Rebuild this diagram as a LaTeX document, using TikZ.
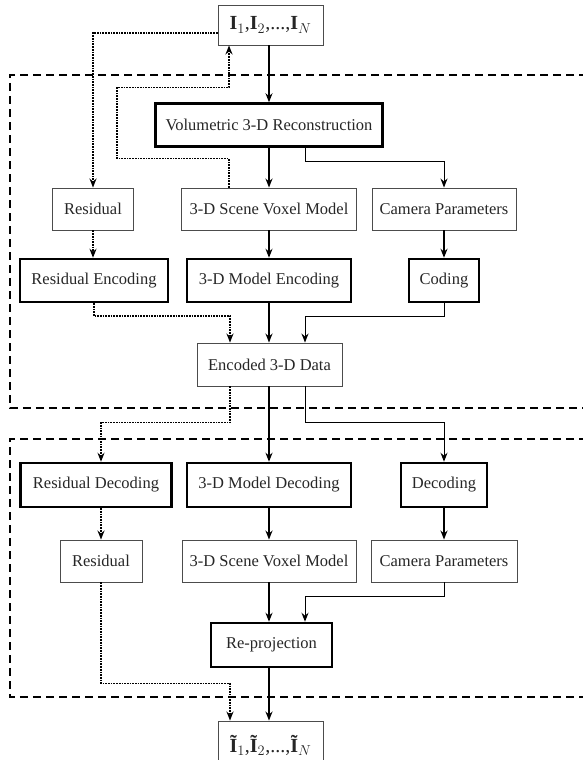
\documentclass[tikz,border=0pt]{standalone}
\usepackage{fontspec}
\setmainfont{Liberation Serif}
\usetikzlibrary{arrows.meta}

\tikzset{
  plainbox/.style={draw=black!70, line width=0.9pt, minimum height=42pt, inner sep=2pt,
    text=black!85, font=\fontsize{16.5}{19}\selectfont},
  heavybox/.style={plainbox, draw=black, line width=2.5pt, minimum height=43pt},
  imgbox/.style={plainbox, minimum width=105pt, font=\fontsize{20}{22}\selectfont},
  mainarrow/.style={line width=1.7pt, -{Stealth[length=9pt,width=7pt]}},
  dotarrow/.style={line width=1.7pt, densely dotted, -{Stealth[length=9pt,width=7pt]}},
  thinarrow/.style={line width=0.9pt, -{Stealth[length=9pt,width=7pt,line width=1.2pt]}},
  frame/.style={line width=1.6pt, dash pattern=on 8pt off 5pt}
}

\begin{document}
\begin{tikzpicture}[x=1pt,y=-1pt]
  \useasboundingbox (0,0) rectangle (583,760);

  % encoder and decoder frames
  \draw[frame] (600,75) -- (10,75) -- (10,408) -- (600,408);
  \draw[frame] (600,439) -- (10,439) -- (10,697) -- (600,697);

  \node[imgbox, minimum height=40pt] (in) at (270.5,25)
    {\textbf{I}$_1$,\textbf{I}$_2$,...,\textbf{I}$_N$};
  \node[heavybox, minimum width=227pt] (vol) at (269,125) {Volumetric 3-D Reconstruction};

  \node[plainbox, minimum width=81pt]  (resA) at (93,209)  {Residual};
  \node[plainbox, minimum width=175pt] (voxA) at (269,209) {3-D Scene Voxel Model};
  \node[plainbox, minimum width=144pt] (camA) at (444,209) {Camera Parameters};

  \node[heavybox, minimum width=148pt] (resenc) at (94,280.5)  {Residual Encoding};
  \node[heavybox, minimum width=164pt] (modenc) at (269,280.5) {3-D Model Encoding};
  \node[heavybox, minimum width=70pt]  (coding) at (444,280.5) {Coding};

  \node[plainbox, minimum width=145pt, minimum height=43pt] (enc) at (269.5,364.5) {Encoded 3-D Data};

  \node[heavybox, minimum width=151pt, minimum height=44pt] (resdec) at (96,485) {Residual Decoding};
  \node[heavybox, minimum width=164pt, minimum height=44pt] (moddec) at (269,485) {3-D Model Decoding};
  \node[heavybox, minimum width=86pt, minimum height=44pt]  (decoding) at (444,485) {Decoding};

  \node[plainbox, minimum width=82pt]  (resB) at (101,561) {Residual};
  \node[plainbox, minimum width=174pt] (voxB) at (269,561) {3-D Scene Voxel Model};
  \node[plainbox, minimum width=146pt] (camB) at (444,561) {Camera Parameters};

  \node[heavybox, minimum width=121pt, minimum height=44pt] (reproj) at (271.5,645) {Re-projection};
  \node[imgbox, minimum height=48pt] (out) at (270.5,745)
    {\textbf{Ĩ}$_1$,\textbf{Ĩ}$_2$,...,\textbf{Ĩ}$_N$};

  % encoder side
  \draw[mainarrow] (in.south -| vol) -- (vol.north);
  \draw[dotarrow] (in.west) ++(0,8) -| (resA.north);
  \draw[mainarrow] (vol.south) -- (voxA.north);
  \draw[thinarrow] ([xshift=36pt]vol.south) -- ++(0,14) -| (camA.north);
  \draw[dotarrow] ([xshift=-40pt]voxA.north) -- ++(0,-29) -| ++(-112,-71) -| ([xshift=-41.5pt]in.south);
  \draw[dotarrow] (resA.south) -- (resA.south |- resenc.north);
  \draw[mainarrow] (voxA.south) -- (modenc.north);
  \draw[mainarrow] (camA.south) -- (coding.north);
  \draw[dotarrow] (resenc.south) -- ++(0,13) -| ([xshift=-39.5pt]enc.north);
  \draw[mainarrow] (modenc.south) -- (modenc.south |- enc.north);
  \draw[thinarrow] (coding.south) -- ++(0,13) -| ([xshift=35.5pt]enc.north);

  % decoder side
  \draw[dotarrow] ([xshift=-39.5pt]enc.south) -- ++(0,36) -| (resB.north |- resdec.north);
  \draw[mainarrow] (enc.south -| moddec) -- (moddec.north);
  \draw[thinarrow] ([xshift=35.5pt]enc.south) -- ++(0,36) -| (decoding.north);
  \draw[dotarrow] (resB.north |- resdec.south) -- (resB.north);
  \draw[mainarrow] (moddec.south) -- (voxB.north);
  \draw[mainarrow] (decoding.south) -- (camB.north);
  \draw[mainarrow] (voxB.south) -- (voxB.south |- reproj.north);
  \draw[thinarrow] (camB.south) -- ++(0,14) -| ([xshift=33.5pt]reproj.north);
  \draw[mainarrow] (reproj.south -| voxB) -- (out.north -| voxB);
  \draw[dotarrow] (resB.south) -- ++(0,101) -| ([xshift=-40.5pt]out.north);
\end{tikzpicture}
\end{document}
